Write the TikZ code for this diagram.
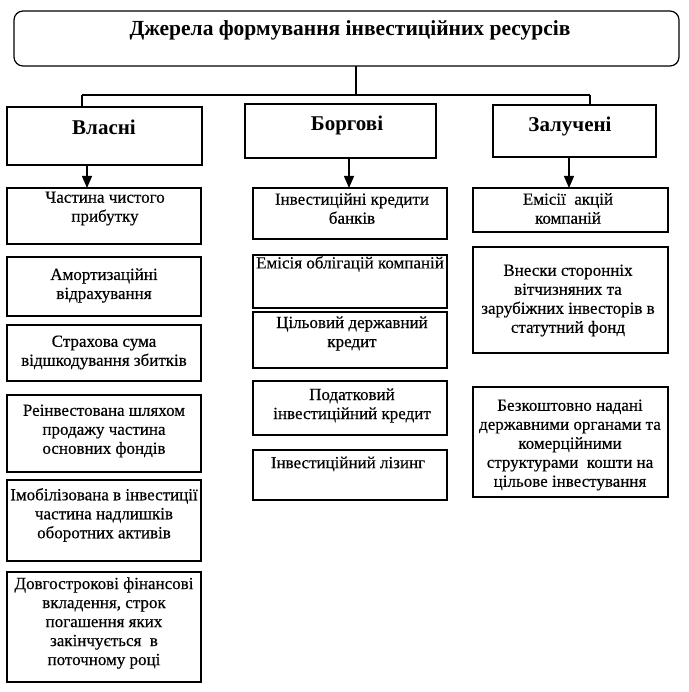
\documentclass[tikz,border=0pt]{standalone}
\usepackage{fontspec}
\setmainfont{Liberation Serif}
\newfontfamily\bodyfont[FakeBold=0.4]{Liberation Serif}
\usetikzlibrary{arrows.meta}
\newcommand\mkbox[8]{%
  \node[box, minimum width={(#4-#2)*1pt}, minimum height={(#5-#3)*1pt}] (#1) at ({(#2+#4)/2},{(#3+#5)/2}) {};
  \node[txt] (#1t) at (#6,#7) {#8};}
\begin{document}
\begin{tikzpicture}[x=1pt,y=-1pt,
  box/.style={draw, line width=1.2pt, inner sep=0pt, outer sep=0pt},
  txt/.style={align=center, inner sep=0pt, font=\bodyfont\fontsize{17}{19}\selectfont},
  headtxt/.style={inner sep=0pt, font=\bfseries\fontsize{21}{24}\selectfont},
  titletxt/.style={inner sep=0pt, font=\bfseries\fontsize{21.5}{24}\selectfont},
  conn/.style={line width=1.2pt},
  arr/.style={line width=1.2pt, -{Triangle[width=10pt,length=12pt]}}]
\useasboundingbox (0,0) rectangle (688,692);
\fill[white] (0,0) rectangle (688,692);
% title
\node[box, rounded corners=9pt, minimum width=665pt, minimum height=55pt] (title) at (346.5,38.5) {};
\node[titletxt] (titlet) at (350,30) {Джерела формування інвестиційних ресурсів};
% headers
\node[box, minimum width=195pt, minimum height=58pt] (vl) at (104.5,136) {};
\node[headtxt] (vlt) at (104,127) {Власні};
\node[box, minimum width=191pt, minimum height=54pt] (bo) at (340.5,131) {};
\node[headtxt] (bot) at (347,125) {Боргові};
\node[box, minimum width=163pt, minimum height=52pt] (za) at (574.5,131) {};
\node[headtxt] (zat) at (570,126) {Залучені};
% connectors from title
\coordinate (hm) at (356,95);
\coordinate (hl) at (82,95);
\coordinate (hr) at (590,95);
\draw[conn] (title.south -| hm) -- (hm);
\draw[conn] (hl) -- (hr);
\draw[conn] (hl) -- (hl |- vl.north);
\draw[conn] (hr) -- (hr |- za.north);
% left column
\mkbox{l1}{7}{188}{201}{244}{105}{208.5}{Частина чистого\\прибутку}
\mkbox{l2}{7}{257}{201}{316}{104}{285.5}{Амортизаційні\\відрахування}
\mkbox{l3}{7}{325}{201}{381}{104}{352.5}{Страхова сума\\відшкодування збитків}
\mkbox{l4}{7}{395}{201}{472}{104}{431}{Реінвестована шляхом\\продажу частина\\основних фондів}
\mkbox{l5}{7}{480}{201}{561}{104}{515}{Імобілізована в інвестиції\\частина надлишків\\оборотних активів}
\mkbox{l6}{7}{572}{201}{682}{104}{623}{Довгострокові фінансові\\вкладення, строк\\погашення яких\\закінчується\ \ в\\поточному році}
% middle column
\mkbox{m1}{253}{188}{447}{239}{352}{208.5}{Інвестиційні кредити\\банків}
\mkbox{m2}{253}{255}{447}{308}{350}{264}{Емісія облігацій компаній}
\mkbox{m3}{253}{312}{447}{368}{352}{333.5}{Цільовий державний\\кредит}
\mkbox{m4}{253}{381}{447}{435}{352}{405.5}{Податковий\\інвестиційний кредит}
\mkbox{m5}{253}{450}{447}{500}{348}{464}{Інвестиційний лізинг}
% right column
\mkbox{r1}{473}{188}{668}{232}{568}{208.5}{Емісії\ \ акцій\\компаній}
\mkbox{r2}{473}{247}{668}{353}{568}{300.5}{Внески сторонніх\\вітчизняних та\\зарубіжних інвесторів в\\статутний фонд}
\mkbox{r3}{473}{387}{668}{497}{570}{445}{Безкоштовно надані\\державними органами та\\комерційними\\структурами\ \ кошти на\\цільове інвестування}
% arrows
\coordinate (a1) at (87,0);
\coordinate (a2) at (349,0);
\coordinate (a3) at (569,0);
\draw[arr] (vl.south -| a1) -- (l1.north -| a1);
\draw[arr] (bo.south -| a2) -- (m1.north -| a2);
\draw[arr] (za.south -| a3) -- (r1.north -| a3);
\end{tikzpicture}
\end{document}
